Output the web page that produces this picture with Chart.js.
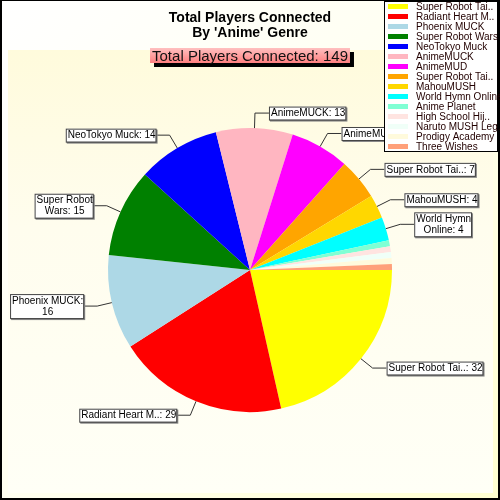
<!DOCTYPE html>
<html>
<head>
<meta charset="utf-8">
<script src="https://cdn.jsdelivr.net/npm/chart.js@4"></script>
<style>
  html, body { margin: 0; padding: 0; background: #fff; }
  #wrap { width: 500px; height: 500px; }
</style>
</head>
<body>
<div id="wrap"><canvas id="c" width="500" height="500"></canvas></div>
<script>
// legend names (already truncated as in the source chart)
const games = [
  'Super Robot Tai..', 'Radiant Heart M..', 'Phoenix MUCK', 'Super Robot Wars',
  'NeoTokyo Muck', 'AnimeMUCK', 'AnimeMUD', 'Super Robot Tai..', 'MahouMUSH',
  'World Hymn Online', 'Anime Planet', 'High School Hij..', 'Naruto MUSH Leg..',
  'Prodigy Academy', 'Three Wishes'
];
const players = [32, 29, 16, 15, 14, 13, 10, 7, 4, 4, 1, 1, 1, 1, 1];
const colors = [
  '#ffff00', '#ff0000', '#add8e6', '#008000', '#0000ff', '#ffb6c1', '#ff00ff',
  '#ffa500', '#ffd700', '#00ffff', '#7fffd4', '#ffe4e1', '#f0fff8', '#fffadc', '#ffa07a'
];
// slice label names, '' = no label; wrapAt = char index of line break (0 = none)
const labelNames = [
  'Super Robot Tai..', 'Radiant Heart M..', 'Phoenix MUCK', 'Super Robot Wars',
  'NeoTokyo Muck', 'AnimeMUCK', 'AnimeMUD', 'Super Robot Tai..', 'MahouMUSH',
  'World Hymn Online', '', '', '', '', ''
];
const wrapAt = [0, 0, 13, 11, 0, 0, 0, 0, 0, 10, 0, 0, 0, 0, 0];
const titleLines = ['Total Players Connected', "By 'Anime' Genre"];
const totalText = 'Total Players Connected: ' + players.reduce((a, b) => a + b, 0);

const FONT = "'Liberation Sans', Arial, sans-serif";

const backdrop = {
  id: 'backdrop',
  beforeDraw(chart) {
    const ctx = chart.ctx;
    ctx.save();
    let g = ctx.createLinearGradient(0, 0, 500, 500);
    g.addColorStop(0, '#ffffff');
    g.addColorStop(0.5, '#fffff0');
    g.addColorStop(1, '#ffffd0');
    ctx.fillStyle = g;
    ctx.fillRect(0, 0, 500, 500);
    g = ctx.createLinearGradient(0, 50, 0, 493);
    g.addColorStop(0, '#fffbdc');
    g.addColorStop(0.4, '#fffdee');
    g.addColorStop(1, '#fffff6');
    ctx.fillStyle = g;
    ctx.fillRect(8, 50, 485, 443);
    // frame
    ctx.fillStyle = '#000';
    ctx.fillRect(0, 0, 500, 1);
    ctx.fillRect(0, 0, 2, 500);
    ctx.fillRect(498, 0, 2, 500);
    ctx.fillRect(0, 498, 500, 2);
    ctx.restore();
  }
};

const decorations = {
  id: 'decorations',
  afterDraw(chart) {
    const ctx = chart.ctx;
    ctx.save();
    // title
    ctx.fillStyle = '#000';
    ctx.font = 'bold 14px ' + FONT;
    ctx.textAlign = 'center';
    ctx.textBaseline = 'middle';
    titleLines.forEach((t, i) => ctx.fillText(t, 250, 18 + i * 15));

    // total box with shadow
    ctx.font = '15px ' + FONT;
    const tw = ctx.measureText(totalText).width + 4;
    const bx = 250 - tw / 2, by = 48, bh = 15;
    ctx.fillStyle = '#000';
    ctx.fillRect(bx + 4, by + 4, tw, bh);
    const g = ctx.createLinearGradient(0, by, 0, by + bh);
    g.addColorStop(0, '#ffc0c0');
    g.addColorStop(1, '#ff8080');
    ctx.fillStyle = g;
    ctx.fillRect(bx, by, tw, bh);
    ctx.fillStyle = '#111';
    ctx.fillText(totalText, 250, by + bh / 2 + 1);

    // slice labels with leader lines
    const meta = chart.getDatasetMeta(0);
    ctx.font = '10px ' + FONT;
    meta.data.forEach((arc, i) => {
      if (!labelNames[i]) return;
      const p = arc.getProps(['x', 'y', 'startAngle', 'endAngle', 'outerRadius'], true);
      const mid = (p.startAngle + p.endAngle) / 2;
      const cx = Math.cos(mid), cy = Math.sin(mid);
      const x0 = p.x + cx * p.outerRadius, y0 = p.y + cy * p.outerRadius;
      const x1 = p.x + cx * (p.outerRadius + 15), y1 = p.y + cy * (p.outerRadius + 15);
      const right = cx >= 0;
      const x2 = right ? x1 + 14 : x1 - 14;
      ctx.strokeStyle = '#333';
      ctx.lineWidth = 1;
      ctx.beginPath();
      ctx.moveTo(x0, y0);
      ctx.lineTo(x1, y1);
      ctx.lineTo(x2, y1);
      ctx.stroke();

      const txt = labelNames[i] + ': ' + players[i];
      const lines = wrapAt[i] ? [txt.slice(0, wrapAt[i]).trim(), txt.slice(wrapAt[i]).trim()] : [txt];
      const w = Math.max(...lines.map(l => ctx.measureText(l).width)) + 2;
      const h = lines.length * 11 + 2;
      const lx = right ? x2 : x2 - w;
      const ly = y1 - h / 2;
      ctx.fillStyle = '#888';
      ctx.fillRect(lx + 1, ly + 1, w + 1, h + 1);
      ctx.fillStyle = '#fff';
      ctx.fillRect(lx, ly, w, h);
      ctx.strokeStyle = '#444';
      ctx.strokeRect(lx + 0.5, ly + 0.5, w, h);
      ctx.fillStyle = '#000';
      ctx.textAlign = 'center';
      ctx.textBaseline = 'middle';
      lines.forEach((l, k) => ctx.fillText(l, lx + w / 2 + 1, ly + 7 + k * 11));
    });

    // legend box (drawn over everything)
    const lgx = 384, lgy = 1, lgw = 113, lgh = 150;
    ctx.fillStyle = '#fff';
    ctx.fillRect(lgx, lgy, lgw, lgh);
    ctx.strokeStyle = '#000';
    ctx.strokeRect(lgx + 0.5, lgy + 0.5, lgw, lgh);
    ctx.textAlign = 'left';
    ctx.textBaseline = 'middle';
    ctx.font = '10px ' + FONT;
    games.forEach((name, i) => {
      const ry = 6.5 + i * 10;
      ctx.fillStyle = colors[i];
      ctx.fillRect(388, ry - 2.5, 20, 5);
      ctx.fillStyle = '#200';
      ctx.fillText(name, 416, ry + 0.5);
    });
    ctx.restore();
  }
};

new Chart(document.getElementById('c'), {
  type: 'pie',
  data: {
    labels: games,
    datasets: [{
      data: players,
      backgroundColor: colors,
      borderWidth: 0
    }]
  },
  options: {
    responsive: false,
    animation: false,
    rotation: 90,
    layout: { padding: { top: 128, bottom: 88, left: 108, right: 108 } },
    plugins: {
      legend: { display: false },
      title: { display: false },
      tooltip: { enabled: false }
    }
  },
  plugins: [backdrop, decorations]
});
</script>
</body>
</html>
